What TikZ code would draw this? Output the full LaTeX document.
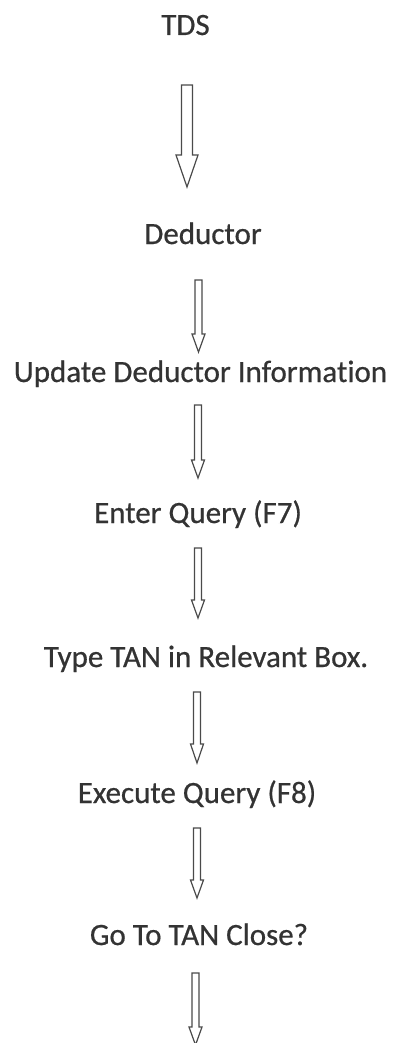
\documentclass[tikz,border=0pt]{standalone}
\usepackage{fontspec}
\setmainfont[Ligatures=NoCommon, FakeBold=0.6]{Carlito}
\usetikzlibrary{calc}
\definecolor{ink}{HTML}{333333}
\definecolor{arrowink}{HTML}{4A4A4A}
\tikzset{
  label/.style={anchor=base, inner sep=0pt, text=ink, font=\fontsize{31}{37}\selectfont},
  hollow/.style={draw=arrowink, line width=1.2pt, fill=white, line join=miter},
}
% #1 top coordinate, #2 tip coordinate, #3 shaft half width, #4 head half width, #5 head length
\newcommand\hollowarrow[5]{%
  \draw[hollow] ($(#1)+(-#3,0)$) -- ($(#2)+(-#3,-#5)$) -- ($(#2)+(-#4,-#5)$) -- (#2)
    -- ($(#2)+(#4,-#5)$) -- ($(#2)+(#3,-#5)$) -- ($(#1)+(#3,0)$) -- cycle;}
\begin{document}
\begin{tikzpicture}[x=1pt,y=-1pt]
\useasboundingbox (0,0) rectangle (393,1043);
\fill[white] (0,0) rectangle (393,1043);

\node[label] (tds) at (185.5,35) {TDS};
\node[label] (ded) at (203,244) {Deductor};
\node[label] (upd) at (200.5,382) {Update Deductor Information};
\node[label] (ent) at (198,523) {Enter Query (F7)};
\node[label] (typ) at (206,667) {Type TAN in Relevant Box.};
\node[label] (exe) at (197,803) {Execute Query (F8)};
\node[label] (go)  at (199,945) {Go To TAN Close?};

\coordinate (a1t) at (187,85);   \coordinate (a1b) at (187,187);
\coordinate (a2t) at (198.5,280); \coordinate (a2b) at (198.5,352);
\coordinate (a3t) at (198,405);  \coordinate (a3b) at (198,478);
\coordinate (a4t) at (198,548);  \coordinate (a4b) at (198,618);
\coordinate (a5t) at (197,692);  \coordinate (a5b) at (197,763);
\coordinate (a6t) at (197,828);  \coordinate (a6b) at (197,898);
\coordinate (a7t) at (195.5,973); \coordinate (a7b) at (195.5,1045);

\hollowarrow{a1t}{a1b}{5.5}{11}{32}
\hollowarrow{a2t}{a2b}{3.5}{6.5}{18}
\hollowarrow{a3t}{a3b}{3.5}{6.5}{18}
\hollowarrow{a4t}{a4b}{3.5}{6.5}{18}
\hollowarrow{a5t}{a5b}{3.5}{6.5}{19}
\hollowarrow{a6t}{a6b}{3.5}{6.5}{18}
\hollowarrow{a7t}{a7b}{3.5}{6.5}{18}
\end{tikzpicture}
\end{document}
